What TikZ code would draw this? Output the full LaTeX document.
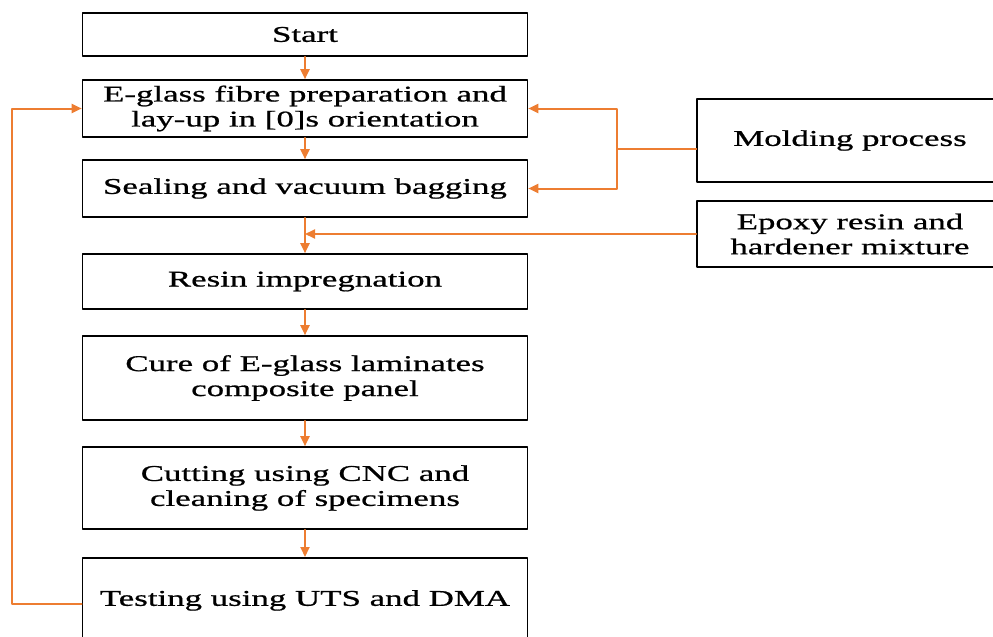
\documentclass[tikz,border=0pt]{standalone}
\usepackage{fontspec}
\setmainfont{Liberation Serif}[FakeStretch=1.55,FakeBold=0.8]
\usetikzlibrary{arrows.meta}
\definecolor{floworange}{RGB}{237,125,49}
\tikzset{
  stage/.style={draw=black,line width=1.6pt,minimum width=445pt,inner sep=0pt,align=center,font=\fontsize{22.5}{25}\selectfont},
  source/.style={stage,minimum width=306pt},
  flow/.style={draw=floworange,line width=2pt,->}
}
\begin{document}
\begin{tikzpicture}[line cap=round,line join=round,>={Triangle[length=10pt,width=9pt]},x=1pt,y=-1pt]
\useasboundingbox (0,0) rectangle (993,637);
\clip (0,0) rectangle (993,637);

\node[stage,minimum height=43pt] (start) at (305,34.5) {Start};
\node[stage,minimum height=57pt] (prep) at (305,108.5) {E-glass fibre preparation and\\lay-up in [0]s orientation};
\node[stage,minimum height=57pt] (seal) at (305,188.5) {Sealing and vacuum bagging};
\node[stage,minimum height=55pt] (resin) at (305,281.5) {Resin impregnation};
\node[stage,minimum height=84pt] (cure) at (305,378) {Cure of E-glass laminates\\composite panel};
\node[stage,minimum height=82pt] (cut) at (305,488) {Cutting using CNC and\\cleaning of specimens};
\node[stage,anchor=north,text height=48pt,text depth=60pt] (test) at (305,557) {Testing using UTS and DMA};

\node[source,minimum height=83pt] (mold) at (850,140.5) {Molding process};
\node[source,minimum height=66pt] (epoxy) at (850,234) {Epoxy resin and\\hardener mixture};

\draw[flow] (start) -- (prep);
\draw[flow] (prep) -- (seal);
\draw[flow] (seal) -- (resin);
\draw[flow] (resin) -- (cure);
\draw[flow] (cure) -- (cut);
\draw[flow] (cut) -- (test);

\coordinate (moldjoin) at ([yshift=-8.5pt]mold.west);
\draw[flow] (moldjoin) -- ++(-79,0) |- (prep.east);
\draw[flow] (moldjoin) -- ++(-79,0) |- (seal.east);
\draw[flow] (epoxy.west) -- (epoxy.west -| seal.south);

\draw[flow] (test.mid west) -- ++(-70,0) |- (prep.west);
\end{tikzpicture}
\end{document}
